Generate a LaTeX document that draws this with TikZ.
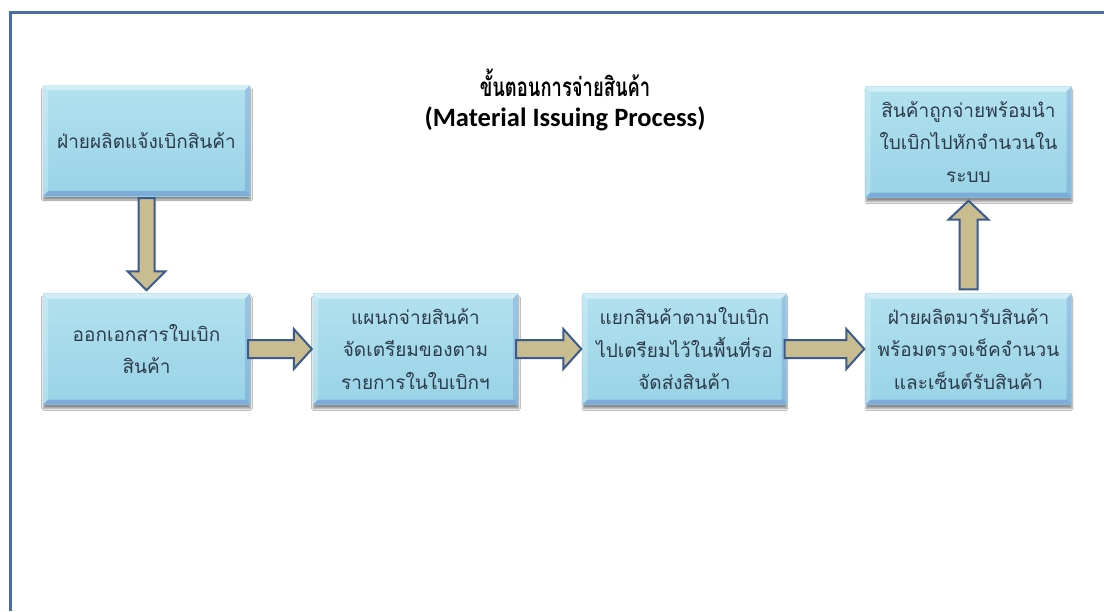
\documentclass[tikz,border=0pt]{standalone}
\usepackage{fontspec}
\setmainfont{Carlito}
\newfontfamily\thai[Script=Thai]{Loma}
\usetikzlibrary{shadows.blur,calc}

\definecolor{framecol}{HTML}{4A6DA5}
\definecolor{boxtop}{HTML}{B2E1EF}
\definecolor{boxbot}{HTML}{98D3E6}
\definecolor{boxtext}{HTML}{2E3B4A}
\definecolor{arrowfill}{HTML}{C9BC8E}
\definecolor{arrowline}{HTML}{3B5B8E}

\tikzset{
  stepbox/.style={rectangle, minimum width=207pt, minimum height=111pt,
    inner sep=0pt, top color=boxtop, bottom color=boxbot, draw=none,
    text=boxtext, align=center,
    font=\thai\fontsize{19}{32.5}\selectfont,
    blur shadow={shadow xshift=0.5pt, shadow yshift=-4pt,
      shadow opacity=45, shadow blur steps=6},
    path picture={
      % bevelled edges: light on top and left, darker on bottom and right
      \fill[white, opacity=0.45]
        (path picture bounding box.north west) -- (path picture bounding box.north east)
        -- ([shift={(-5pt,-5pt)}]path picture bounding box.north east)
        -- ([shift={(5pt,-5pt)}]path picture bounding box.north west) -- cycle;
      \fill[white, opacity=0.25]
        (path picture bounding box.north west) -- (path picture bounding box.south west)
        -- ([shift={(5pt,5pt)}]path picture bounding box.south west)
        -- ([shift={(5pt,-5pt)}]path picture bounding box.north west) -- cycle;
      \fill[black!40!blue, opacity=0.18]
        (path picture bounding box.south west) -- (path picture bounding box.south east)
        -- ([shift={(-5pt,5pt)}]path picture bounding box.south east)
        -- ([shift={(5pt,5pt)}]path picture bounding box.south west) -- cycle;
      \fill[black!40!blue, opacity=0.12]
        (path picture bounding box.north east) -- (path picture bounding box.south east)
        -- ([shift={(-5pt,5pt)}]path picture bounding box.south east)
        -- ([shift={(-5pt,-5pt)}]path picture bounding box.north east) -- cycle;
    }},
  blockarrow/.style={draw=arrowline, line width=2pt, fill=arrowfill, line join=miter},
  titlethai/.style={font=\thai\bfseries\fontsize{20}{24}\selectfont, text=black,
    xscale=0.92, yscale=1.3, transform shape},
  titleeng/.style={font=\bfseries\fontsize{26.5}{30}\selectfont, text=black},
}

\begin{document}
\begin{tikzpicture}[x=1pt, y=-1pt]
  \useasboundingbox (0,0) rectangle (1104,611);
  \fill[white] (0,0) rectangle (1104,611);

  % page frame (top and left edges)
  \draw[framecol, line width=3pt] (10,611) -- (10,12) -- (1104,12);

  % title
  \node[titlethai] (t1) at (565,83) {ขั้นตอนการจ่ายสินค้า};
  \node[titleeng] (t2) at (565,119) {(Material Issuing Process)};

  % process steps
  \node[stepbox] (b1) at (146.5,140.5) {ฝ่ายผลิตแจ้งเบิกสินค้า};
  \node[stepbox] (b2) at (146.5,349) {ออกเอกสารใบเบิก\\สินค้า};
  \node[stepbox, minimum width=205pt] (b3) at (415.5,349) {แผนกจ่ายสินค้า\\จัดเตรียมของตาม\\รายการในใบเบิกฯ};
  \node[stepbox, minimum width=204pt] (b4) at (684.5,349) {แยกสินค้าตามใบเบิก\\ไปเตรียมไว้ในพื้นที่รอ\\จัดส่งสินค้า};
  \node[stepbox, minimum width=206pt] (b5) at (968.5,349) {ฝ่ายผลิตมารับสินค้า\\พร้อมตรวจเช็คจำนวน\\และเซ็นต์รับสินค้า};
  \node[stepbox, minimum width=206pt] (b6) at (968.5,142) {สินค้าถูกจ่ายพร้อมนำ\\ใบเบิกไปหักจำนวนใน\\ระบบ};

  % down arrow b1 -> b2
  \draw[blockarrow] let \p1=(b1.south), \p2=(b2.north) in
    (\x1-8pt,\y1-2pt) -- (\x1-8pt,\y2+22pt) -- (\x1-19pt,\y2+22pt) -- (\x1,\y2+3pt)
    -- (\x1+19pt,\y2+22pt) -- (\x1+8pt,\y2+22pt) -- (\x1+8pt,\y1-2pt) -- cycle;

  % right arrows along the lower row
  \foreach \a/\b in {b2/b3, b3/b4, b4/b5} {
    \draw[blockarrow] let \p1=(\a.east), \p2=(\b.west) in
      (\x1-2pt,\y1+9pt) -- (\x2-19pt,\y1+9pt) -- (\x2-19pt,\y1+20pt) -- (\x2-1pt,\y1)
      -- (\x2-19pt,\y1-20pt) -- (\x2-19pt,\y1-9pt) -- (\x1-2pt,\y1-9pt) -- cycle;
  }

  % up arrow b5 -> b6
  \draw[blockarrow] let \p1=(b5.north), \p2=(b6.south) in
    (\x1-9pt,\y1+4pt) -- (\x1-9pt,\y2-22pt) -- (\x1-20pt,\y2-22pt) -- (\x1,\y2-3pt)
    -- (\x1+20pt,\y2-22pt) -- (\x1+9pt,\y2-22pt) -- (\x1+9pt,\y1+4pt) -- cycle;
\end{tikzpicture}
\end{document}
